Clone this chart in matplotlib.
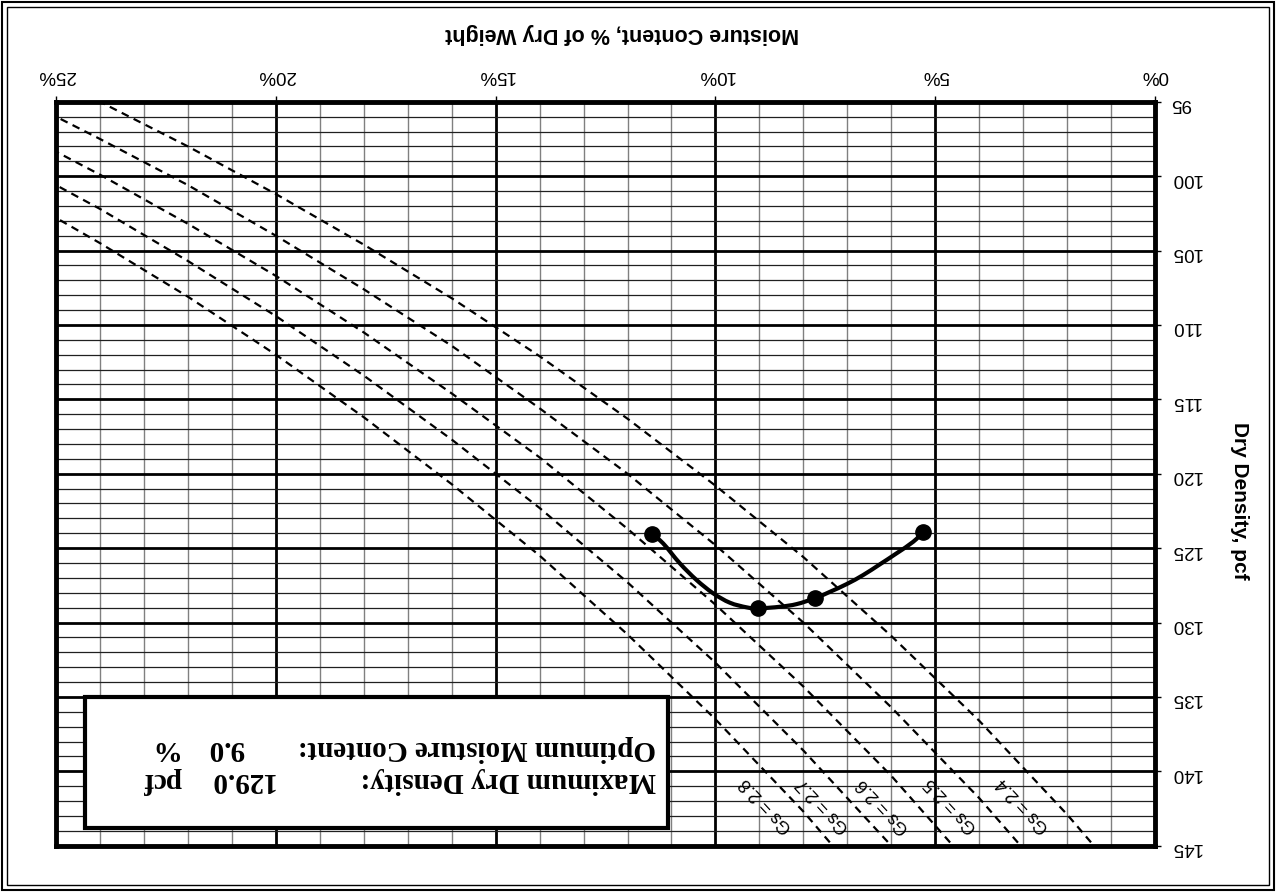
import numpy as np
import matplotlib
matplotlib.use("Agg")
import matplotlib.pyplot as plt
from matplotlib.path import Path
from matplotlib.patches import PathPatch, Rectangle

plt.rcParams["font.family"] = ["Liberation Sans", "DejaVu Sans"]

# compaction test points (moisture %, dry density pcf)
moisture_pts = [5.27, 7.74, 9.03, 11.45]
density_pts = [123.9, 128.37, 129.05, 124.05]

# fitted compaction curve as drawn
curve_w = [5.27, 5.50, 5.88, 6.26, 6.64, 7.01, 7.39, 7.74, 8.15, 8.53, 9.03,
           9.29, 9.67, 10.05, 10.43, 10.81, 11.19, 11.45]
curve_d = [123.90, 124.57, 125.35, 126.09, 126.81, 127.41, 127.93, 128.37, 128.76, 128.94, 129.05,
           128.98, 128.67, 128.04, 127.14, 126.02, 124.68, 124.05]

# zero air voids lines
zav_moisture = [0, 2, 4, 6, 8, 10, 12, 14, 16, 18, 20, 22, 24, 26]
zav_gs = ["2.4", "2.5", "2.6", "2.7", "2.8"]
zav_24 = [149.8, 142.9, 136.6, 130.9, 125.6, 120.8, 116.3, 112.1, 108.2, 104.6, 101.2, 98.0, 95.0, 92.2]
zav_25 = [156.0, 148.6, 141.8, 135.7, 130.0, 124.8, 120.0, 115.6, 111.4, 107.6, 104.0, 100.6, 97.5, 94.5]
zav_26 = [162.2, 154.2, 147.0, 140.3, 134.3, 128.8, 123.7, 118.9, 114.6, 110.5, 106.7, 103.2, 99.9, 96.8]
zav_27 = [168.5, 159.8, 152.1, 145.0, 138.6, 132.7, 127.3, 122.3, 117.7, 113.4, 109.4, 105.7, 102.2, 99.0]
zav_28 = [174.7, 165.5, 157.1, 149.6, 142.7, 136.5, 130.8, 125.5, 120.7, 116.2, 112.0, 108.1, 104.5, 101.1]

x_ticks = [0, 5, 10, 15, 20, 25]
x_ticklabels = ["0%", "5%", "10%", "15%", "20%", "25%"]
y_ticks = [95, 100, 105, 110, 115, 120, 125, 130, 135, 140, 145]

max_density = "129.0"
opt_moisture = "9.0"

# where the Gs labels sit (moisture, density)
gs_label_w = [2.99, 4.63, 6.18, 7.55, 8.84]
gs_label_d = 142.3


def smooth_path(xs, ys):
    # smoothed line through the points (Catmull-Rom as cubic Bezier)
    pts = np.column_stack([xs, ys]).astype(float)
    ext = np.vstack([pts[0], pts, pts[-1]])
    verts = [pts[0]]
    codes = [Path.MOVETO]
    for i in range(len(pts) - 1):
        p0, p1, p2, p3 = ext[i], ext[i + 1], ext[i + 2], ext[i + 3]
        verts += [p1 + (p2 - p0) / 6, p2 - (p3 - p1) / 6, p2]
        codes += [Path.CURVE4] * 3
    return Path(verts, codes)


fig = plt.figure(figsize=(12.76, 8.92), dpi=100)
ax = fig.add_axes([0.0439, 0.0519, 0.8613, 0.834])

# whole chart is shown upside down: inverted axes, text rotated 180
ax.set_xlim(25, 0)
ax.set_ylim(145, 95)

ax.set_xticks(x_ticks)
ax.set_xticklabels(x_ticklabels)
ax.set_xticks(np.arange(0, 26, 1), minor=True)
ax.set_yticks(y_ticks)
ax.set_yticks(np.arange(95, 146, 1), minor=True)

ax.xaxis.tick_top()
ax.yaxis.tick_right()
ax.tick_params(which="major", direction="out", length=4, width=1, labelsize=13.5,
               labelrotation=180)
ax.tick_params(axis="x", which="major", pad=9)
ax.tick_params(axis="y", which="major", pad=7)
ax.tick_params(which="minor", length=0)

ax.xaxis.grid(True, which="minor", color="#808080", lw=1.0)
ax.yaxis.grid(True, which="minor", color="#202020", lw=0.9)
ax.xaxis.grid(True, which="major", color="black", lw=2.0)
ax.yaxis.grid(True, which="major", color="black", lw=2.0)
ax.set_axisbelow(True)

for s in ax.spines.values():
    s.set_linewidth(3.5)

ax.xaxis.set_label_position("top")
ax.set_xlabel("Moisture Content, % of Dry Weight", fontsize=15.5, fontweight="bold",
              rotation=180, ha="center", va="center")
ax.xaxis.set_label_coords(0.515, 1.092)
ax.yaxis.set_label_position("right")
ax.set_ylabel("Dry Density, pcf", fontsize=15, fontweight="bold",
              rotation=270, ha="center", va="center")
ax.yaxis.set_label_coords(1.077, 0.463)

for gs, dens, lw_ in zip(zav_gs, [zav_24, zav_25, zav_26, zav_27, zav_28], gs_label_w):
    ax.plot(zav_moisture, dens, color="black", lw=1.6, ls=(0, (3.5, 2.5)), zorder=3)
    ax.text(lw_, gs_label_d, f"Gs = {gs}", fontsize=13, rotation=133,
            ha="center", va="center", rotation_mode="anchor", zorder=4)

ax.add_patch(PathPatch(smooth_path(curve_w, curve_d), fill=False,
                       lw=3.0, color="black", zorder=5))
ax.plot(moisture_pts, density_pts, "o", ms=11, color="black", zorder=6)

# result box
ax.add_patch(Rectangle((0.0264, 0.0238), 0.5306, 0.176, transform=ax.transAxes,
                       facecolor="white", edgecolor="black", lw=3, zorder=7))
serif = dict(family="Liberation Serif", fontweight="bold", fontsize=21,
             rotation=180, rotation_mode="anchor", va="center", zorder=8,
             transform=ax.transAxes)
ax.text(0.546, 0.088, "Maximum Dry Density:", ha="left", **serif)
ax.text(0.546, 0.131, "Optimum Moisture Content:", ha="left", **serif)
ax.text(0.138, 0.088, max_density, ha="right", **serif)
ax.text(0.138, 0.131, opt_moisture, ha="right", **serif)
ax.text(0.097, 0.088, "pcf", ha="center", **serif)
ax.text(0.097, 0.131, "%", ha="center", **serif)

# double border round the sheet
fig.patches.append(Rectangle((2 / 1276, 2 / 892), 1272 / 1276, 888 / 892,
                             transform=fig.transFigure, fill=False, lw=1.5, ec="black"))
fig.patches.append(Rectangle((7 / 1276, 7 / 892), 1262 / 1276, 878 / 892,
                             transform=fig.transFigure, fill=False, lw=1.0, ec="black"))

fig.savefig("out.png", dpi=100)
